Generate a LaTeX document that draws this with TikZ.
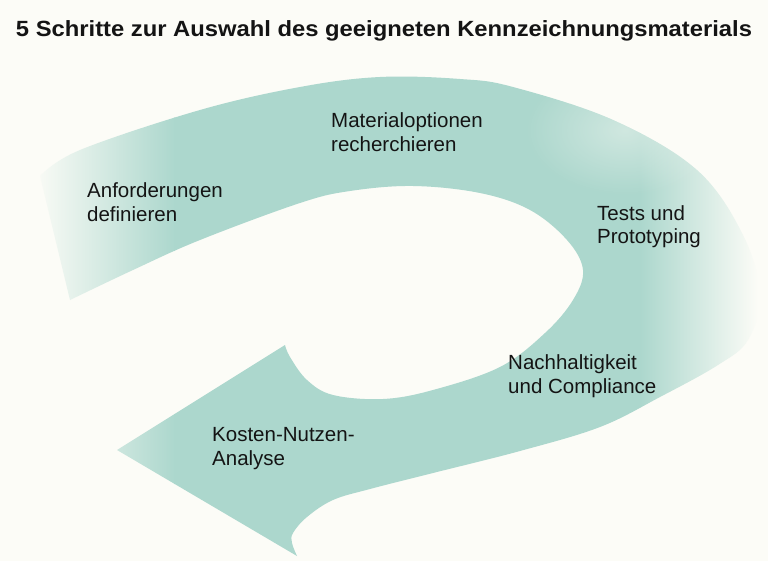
\documentclass[tikz,border=0pt]{standalone}
\usepackage{fontspec}
\setmainfont{Liberation Sans}
\usetikzlibrary{fadings}
\definecolor{bg}{RGB}{252,252,247}
\definecolor{tealband}{RGB}{172,215,205}
\definecolor{txt}{RGB}{20,20,20}
\tikzfading[name=myglow, inner color=transparent!0, outer color=transparent!100]
\begin{document}
\begin{tikzpicture}[x=1pt,y=-1pt,
  lab/.style={anchor=base west, inner sep=0pt, align=left, font=\fontsize{20.5}{24}\selectfont, text=txt}]
\useasboundingbox[fill=bg] (0,0) rectangle (768,561);
\begin{scope}
\clip plot[smooth, tension=0.6] coordinates {(40,176) (80,150) (200,110) (300,87) (380,77) (460,79) (513,87) (613,120) (697,170) (743,235) (760,295) (748,340) (718,365) (660,397) (600,427) (520,451) (433,473) (370,489) (333,500) (307,517) (293,533) (292,543) (297,556)}
  -- (117,450)
  -- plot[smooth, tension=0.6] coordinates {(285,345) (290,357) (307,380) (333,395) (383,399) (433,390) (500,367) (545,333) (573,300) (583,270) (567,240) (530,210) (480,193) (413,186) (350,191) (300,203) (200,240) (133,270) (70,300)}
  -- cycle;
\shade[left color=bg, right color=tealband] (32,0) rectangle (175,561);
\fill[tealband] (174,0) rectangle (641,561);
\shade[left color=tealband, right color=bg] (640,0) rectangle (758,561);
\fill[bg, opacity=0.45, path fading=myglow] (625,130) ellipse (100 and 65);
\end{scope}
\node[anchor=base, inner sep=0pt, text=txt, font=\fontsize{22}{26}\selectfont\bfseries] (title) at (384,37) {\resizebox{736pt}{\height}{5 Schritte zur Auswahl des geeigneten Kennzeichnungsmaterials}};
\node[lab] (l1) at (87,222) {Anforderungen\\definieren};
\node[lab] (l2) at (331,152) {Materialoptionen\\recherchieren};
\node[lab] (l3) at (597,244) {Tests und\\Prototyping};
\node[lab] (l4) at (508,393) {Nachhaltigkeit\\und Compliance};
\node[lab] (l5) at (212,465) {Kosten-Nutzen-\\Analyse};
\end{tikzpicture}
\end{document}
